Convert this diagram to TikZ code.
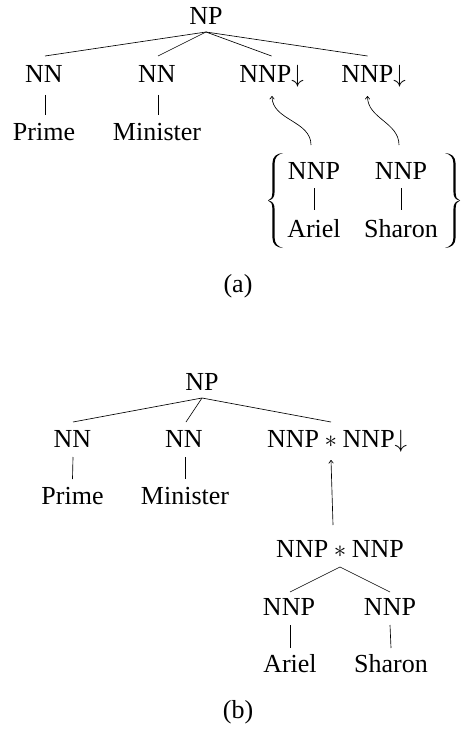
\documentclass[tikz,border=0pt]{standalone}
\usepackage{fontspec}
\setmainfont{Liberation Serif}
\usetikzlibrary{arrows.meta}
\begin{document}
\begin{tikzpicture}[x=1pt,y=1pt,
  lbl/.style={font=\fontsize{26}{30}\selectfont, inner sep=0pt, anchor=base},
  edge/.style={line width=0.65pt},
  ptr/.style={line width=0.65pt, -{To[length=3.5pt,width=5pt]}},
  curly/.pic={
    \fill (9.5,47.5) .. controls (3,47) and (-1.1,44) .. (-1.1,37) -- (-1.1,9)
      .. controls (-1.1,3) and (-2.5,0.8) .. (-5.5,0)
      .. controls (-2.5,-0.8) and (-1.1,-3) .. (-1.1,-9) -- (-1.1,-37)
      .. controls (-1.1,-44) and (3,-47) .. (9.5,-47.5)
      .. controls (4,-46) and (1.1,-43) .. (1.1,-37) -- (1.1,-9)
      .. controls (1.1,-3) and (-1,-0.6) .. (-5.5,0)
      .. controls (-1,0.6) and (1.1,3) .. (1.1,9) -- (1.1,37)
      .. controls (1.1,43) and (4,46) .. (9.5,47.5) -- cycle;
  }]
\useasboundingbox (0,0) rectangle (461,-733);
% ---------- (a) ----------
\node[lbl] (npa) at (206,-25) {NP};
\node[lbl] (nna1) at (44,-83) {NN};
\node[lbl] (nna2) at (157,-83) {NN};
\node[lbl] (nnpda1) at (271.5,-83) {NNP$\downarrow$};
\node[lbl] (nnpda2) at (373.5,-83) {NNP$\downarrow$};
\node[lbl] (primea) at (44,-140) {Prime};
\node[lbl] (ministera) at (157,-140) {Minister};
\node[lbl] (nnpa1) at (314,-179) {NNP};
\node[lbl] (nnpa2) at (401,-179) {NNP};
\node[lbl] (ariela) at (314,-237) {Ariel};
\node[lbl] (sharona) at (401,-237) {Sharon};
\pic at (273.5,-200.5) {curly};
\pic[xscale=-1] at (454.5,-200.5) {curly};
\node[lbl] (capa) at (238,-292) {(a)};
\draw[edge] ([yshift=-7pt]npa.base) -- ([xshift=1pt,yshift=27pt]nna1.base);
\draw[edge] ([yshift=-7pt]npa.base) -- ([xshift=1pt,yshift=27pt]nna2.base);
\draw[edge] ([yshift=-7pt]npa.base) -- ([yshift=27pt]nnpda1.base);
\draw[edge] ([yshift=-7pt]npa.base) -- ([xshift=-6pt,yshift=27pt]nnpda2.base);
\draw[edge] ([xshift=1pt,yshift=-12pt]nna1.base) -- ([xshift=1pt,yshift=25pt]primea.base);
\draw[edge] ([xshift=1pt,yshift=-12pt]nna2.base) -- ([xshift=1pt,yshift=25pt]ministera.base);
\draw[edge] ([yshift=-9pt]nnpa1.base) -- ([yshift=27pt]ariela.base);
\draw[edge] ([yshift=-9pt]nnpa2.base) -- ([yshift=27pt]sharona.base);
\draw[ptr] ([xshift=-3pt,yshift=34pt]nnpa1.base) to[out=90,in=-90] ([xshift=0.5pt,yshift=-13pt]nnpda1.base);
\draw[ptr] ([xshift=-2pt,yshift=34pt]nnpa2.base) to[out=90,in=-90] ([xshift=-6pt,yshift=-13pt]nnpda2.base);
% ---------- (b) ----------
\node[lbl] (npb) at (202,-390) {NP};
\node[lbl] (nnb1) at (72.5,-447) {NN};
\node[lbl] (nnb2) at (184,-447) {NN};
\node[lbl,anchor=base west] (nnpstarb) at (267,-447) {NNP${}\ast{}$NNP$\downarrow$};
\node[lbl] (primeb) at (72.5,-504) {Prime};
\node[lbl] (ministerb) at (185,-504) {Minister};
\node[lbl] (nnpnnpb) at (340,-557) {NNP${}\ast{}$NNP};
\node[lbl] (nnpb1) at (289,-615) {NNP};
\node[lbl] (nnpb2) at (390,-615) {NNP};
\node[lbl] (arielb) at (290,-672) {Ariel};
\node[lbl] (sharonb) at (391,-672) {Sharon};
\node[lbl] (capb) at (238,-718) {(b)};
\draw[edge] ([yshift=-8pt]npb.base) -- ([xshift=0.5pt,yshift=25pt]nnb1.base);
\draw[edge] ([yshift=-8pt]npb.base) -- ([xshift=2pt,yshift=25pt]nnb2.base);
\draw[edge] ([yshift=-8pt]npb.base) -- ([xshift=64pt,yshift=25pt]nnpstarb.base west);
\draw[edge] ([xshift=0.5pt,yshift=-10pt]nnb1.base) -- ([yshift=25pt]primeb.base);
\draw[edge] ([xshift=1pt,yshift=-10pt]nnb2.base) -- ([yshift=25pt]ministerb.base);
\draw[ptr] ([xshift=-7pt,yshift=32pt]nnpnnpb.base) -- ([xshift=64pt,yshift=-13pt]nnpstarb.base west);
\draw[edge] ([yshift=-10pt]nnpnnpb.base) -- ([xshift=1pt,yshift=23pt]nnpb1.base);
\draw[edge] ([yshift=-10pt]nnpnnpb.base) -- ([yshift=23pt]nnpb2.base);
\draw[edge] ([xshift=1pt,yshift=-10pt]nnpb1.base) -- ([yshift=24pt]arielb.base);
\draw[edge] ([yshift=-10pt]nnpb2.base) -- ([yshift=24pt]sharonb.base);
\end{tikzpicture}
\end{document}
